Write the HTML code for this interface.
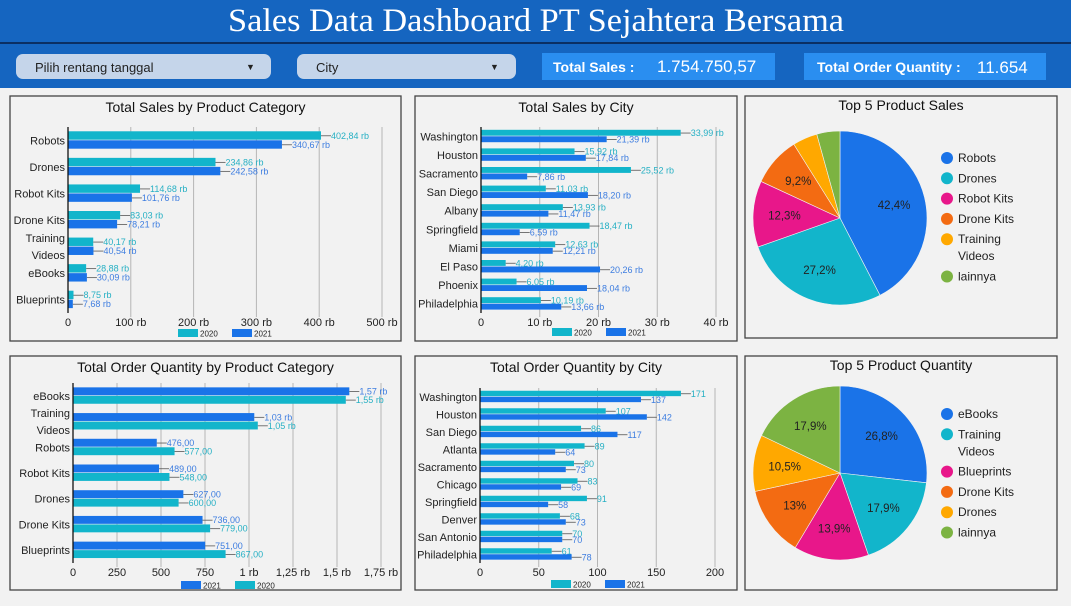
<!DOCTYPE html>
<html><head><meta charset="utf-8"><style>
body{margin:0;width:1071px;height:601px;overflow:hidden;background:#f2f2f2;font-family:"Liberation Sans",sans-serif}
svg text{font-family:"Liberation Sans",sans-serif}
</style></head><body>
<svg id="s" width="1071" height="601" xmlns="http://www.w3.org/2000/svg">
<rect x="0" y="0" width="1071" height="601" fill="#f2f2f2"/>
<rect x="0" y="0" width="1071" height="88" fill="#1565c0"/>
<rect x="0" y="42" width="1071" height="2" fill="#0b2f63"/>
<text x="536" y="31" text-anchor="middle" font-size="33" fill="#fff" style="font-family:'Liberation Serif',serif" textLength="616" lengthAdjust="spacingAndGlyphs">Sales Data Dashboard PT Sejahtera Bersama</text>
<g><rect x="16" y="54" width="255" height="25" rx="7" fill="#c5d5ea"/><text x="35" y="72" font-size="13" fill="#222">Pilih rentang tanggal</text><text x="246" y="70" font-size="9" fill="#222">▼</text></g>
<g><rect x="297" y="54" width="219" height="25" rx="7" fill="#c5d5ea"/><text x="316" y="72" font-size="13" fill="#222">City</text><text x="490" y="70" font-size="9" fill="#222">▼</text></g>
<g><rect x="542" y="53" width="233" height="27" fill="#2a8ef0"/><text x="553" y="72" font-size="14" font-weight="bold" fill="#fff">Total Sales :</text><text x="657" y="72" font-size="17" fill="#fff">1.754.750,57</text></g>
<g><rect x="804" y="53" width="242" height="27" fill="#2a8ef0"/><text x="817" y="72" font-size="14" font-weight="bold" fill="#fff">Total Order Quantity :</text><text x="977" y="73" font-size="17" fill="#fff">11.654</text></g>
<g id="charts"></g>
</svg>
<script>
// Chart 1: Total Sales by Product Category (thousands)
const c1Cats=["Robots","Drones","Robot Kits","Drone Kits","Training|Videos","eBooks","Blueprints"];
const c1S2020=[402.84,234.86,114.68,83.03,40.17,28.88,8.75];
const c1S2021=[340.67,242.58,101.76,78.21,40.54,30.09,7.68];
const c1Ticks=[0,100,200,300,400,500];
const c1TickLabels=["0","100 rb","200 rb","300 rb","400 rb","500 rb"];
// Chart 2: Total Sales by City (thousands)
const c2Cats=["Washington","Houston","Sacramento","San Diego","Albany","Springfield","Miami","El Paso","Phoenix","Philadelphia"];
const c2S2020=[33.99,15.92,25.52,11.03,13.93,18.47,12.63,4.20,6.05,10.19];
const c2S2021=[21.39,17.84,7.86,18.20,11.47,6.59,12.21,20.26,18.04,13.66];
const c2Ticks=[0,10,20,30,40];
const c2TickLabels=["0","10 rb","20 rb","30 rb","40 rb"];
// Chart 4: Order Quantity by Product Category
const c4Cats=["eBooks","Training|Videos","Robots","Robot Kits","Drones","Drone Kits","Blueprints"];
const c4S2021=[1570,1030,476,489,627,736,751];
const c4S2020=[1550,1050,577,548,600,779,867];
const c4Ticks=[0,250,500,750,1000,1250,1500,1750];
const c4TickLabels=["0","250","500","750","1 rb","1,25 rb","1,5 rb","1,75 rb"];
// Chart 5: Order Quantity by City
const c5Cats=["Washington","Houston","San Diego","Atlanta","Sacramento","Chicago","Springfield","Denver","San Antonio","Philadelphia"];
const c5S2020=[171,107,86,89,80,83,91,68,70,61];
const c5S2021=[137,142,117,64,73,69,58,73,70,78];
const c5Ticks=[0,50,100,150,200];
const c5TickLabels=["0","50","100","150","200"];
// Pies
const p1Labels=["Robots","Drones","Robot Kits","Drone Kits","Training|Videos","lainnya"];
const p1Values=[42.4,27.2,12.3,9.2,4.6,4.3];
const p2Labels=["eBooks","Training|Videos","Blueprints","Drone Kits","Drones","lainnya"];
const p2Values=[26.8,17.9,13.9,13,10.5,17.9];

const NS="http://www.w3.org/2000/svg";
const root=document.getElementById('charts');
const TEAL="#12b5cb",BLUE="#1a73e8",TEALT="#26b0c4",BLUET="#3d7de0";
const PIEC=["#1a73e8","#12b5cb","#e8178a","#f36b12","#ffa800","#7cb342"];
function mk(tag,attrs,parent){const e=document.createElementNS(NS,tag);for(const k in attrs)e.setAttribute(k,attrs[k]);(parent||root).appendChild(e);return e;}
function txt(x,y,s,attrs,parent){const t=mk('text',Object.assign({x:x,y:y},attrs),parent);t.textContent=s;return t;}
function panel(x,y,w,h,title,name){const g=mk('g',{});


mk('rect',{x:x,y:y,width:w,height:h,fill:"#f2f2f2",stroke:"#444","stroke-width":1.3},g);
const t=txt(x+w/2,y+16,title,{"text-anchor":"middle","font-size":14,fill:"#111"},g);


return g;}
function fmtRb(v){return v.toFixed(2).replace('.',',')+' rb';}
function fmtQ(v){return v>=1000?(v/1000).toFixed(2).replace('.',',')+' rb':v.toFixed(2).replace('.',',');}
function hbar(g,o){
 const n=o.cats.length,band=(o.bottom-o.top)/n;
 const sx=v=>o.x0+v*(o.x1-o.x0)/o.max;
 o.ticks.forEach((t,i)=>{const x=sx(t);
  if(i>0)mk('line',{x1:x,x2:x,y1:o.top,y2:o.bottom+4,stroke:"#b5b5b5","stroke-width":1},g);
  const tl=txt(x,o.bottom+13,o.tickLabels[i],{"text-anchor":"middle","font-size":11,fill:"#222"},g);
  
  
 });
 o.cats.forEach((c,i)=>{const cy=o.top+band*(i+0.5);
  const parts=c.split('|');
  parts.forEach((p,j)=>{const yy=cy+4+(j-(parts.length-1)/2)*17;
   const cl=txt(o.x0-3,yy,p,{"text-anchor":"end","font-size":11,fill:"#222"},g);
   
   });
  o.series.forEach((s,k)=>{const y=cy-o.bh+k*o.bh;const w=sx(s.vals[i])-o.x0;
   const b=mk('rect',{x:o.x0,y:y,width:Math.max(w,0),height:o.bh-0.6,fill:s.color},g);
   
   
   const ex=o.x0+w,ly=y+o.bh/2;
   mk('line',{x1:ex,x2:ex+10,y1:ly,y2:ly,stroke:"#555","stroke-width":0.8},g);
   const dl=txt(ex+10,ly+3,o.fmt(s.vals[i]),{"font-size":9,fill:s.tcol},g);
   
   
  });
 });
 mk('line',{x1:o.x0,x2:o.x0,y1:o.top,y2:o.bottom,stroke:"#111","stroke-width":1.3},g);
 o.legend.forEach((l,k)=>{const lx=o.legX+k*54;
  const lg=mk('g',{},g);
  
  
  mk('rect',{x:lx,y:o.legY,width:20,height:8,fill:l.color},lg);
  txt(lx+22,o.legY+7.5,l.name,{"font-size":8,fill:"#222"},lg);
 });
}
const g1=panel(10,96,391,245,"Total Sales by Product Category","sales-by-category-chart");
hbar(g1,{cats:c1Cats,x0:68,x1:382,max:500,top:127,bottom:313,bh:9,ticks:c1Ticks,tickLabels:c1TickLabels,fmt:fmtRb,
 series:[{name:"2020",vals:c1S2020,color:TEAL,tcol:TEALT},{name:"2021",vals:c1S2021,color:BLUE,tcol:BLUET}],
 legend:[{name:"2020",color:TEAL},{name:"2021",color:BLUE}],legX:178,legY:329});
const g2=panel(415,96,322,245,"Total Sales by City","sales-by-city-chart");
hbar(g2,{cats:c2Cats,x0:481,x1:716,max:40,top:127,bottom:313,bh:6.5,ticks:c2Ticks,tickLabels:c2TickLabels,fmt:fmtRb,
 series:[{name:"2020",vals:c2S2020,color:TEAL,tcol:TEALT},{name:"2021",vals:c2S2021,color:BLUE,tcol:BLUET}],
 legend:[{name:"2020",color:TEAL},{name:"2021",color:BLUE}],legX:552,legY:328});
const g4=panel(10,356,391,234,"Total Order Quantity by Product Category","quantity-by-category-chart");
hbar(g4,{cats:c4Cats,x0:73,x1:381,max:1750,top:383,bottom:563,bh:8.5,ticks:c4Ticks,tickLabels:c4TickLabels,fmt:fmtQ,
 series:[{name:"2021",vals:c4S2021,color:BLUE,tcol:BLUET},{name:"2020",vals:c4S2020,color:TEAL,tcol:TEALT}],
 legend:[{name:"2021",color:BLUE},{name:"2020",color:TEAL}],legX:181,legY:581});
const g5=panel(415,356,322,234,"Total Order Quantity by City","quantity-by-city-chart");
hbar(g5,{cats:c5Cats,x0:480,x1:715,max:200,top:388,bottom:563,bh:6,ticks:c5Ticks,tickLabels:c5TickLabels,fmt:v=>String(v),
 series:[{name:"2020",vals:c5S2020,color:TEAL,tcol:TEALT},{name:"2021",vals:c5S2021,color:BLUE,tcol:BLUET}],
 legend:[{name:"2020",color:TEAL},{name:"2021",color:BLUE}],legX:551,legY:580});
function pie(g,cx,cy,r,labels,vals,legY,showSmall){
 const tot=vals.reduce((a,b)=>a+b,0);let a0=-Math.PI/2;
 vals.forEach((v,i)=>{const a1=a0+v/tot*2*Math.PI;
  const p=`M${cx},${cy}L${cx+r*Math.cos(a0)},${cy+r*Math.sin(a0)}A${r},${r} 0 ${a1-a0>Math.PI?1:0} 1 ${cx+r*Math.cos(a1)},${cy+r*Math.sin(a1)}Z`;
  const s=mk('path',{d:p,fill:PIEC[i],stroke:"#f2f2f2","stroke-width":0.6},g);
  
  
  if(v/tot>0.07){const m=(a0+a1)/2,lr=r*0.64;
   const pl=txt(cx+lr*Math.cos(m),cy+lr*Math.sin(m)+4,(Math.round(v*10)/10).toString().replace('.',',')+'%',{"text-anchor":"middle","font-size":11.5,fill:"#222"},g);
   
   }
  a0=a1;});
 let y=legY;
 labels.forEach((l,i)=>{const lg=mk('g',{},g);
  
  
  mk('circle',{cx:947,cy:y,r:6,fill:PIEC[i]},lg);
  const parts=l.split('|');
  parts.forEach((p,j)=>txt(958,y+4+j*17,p,{"font-size":12,fill:"#222"},lg));
  y+=20.3+(parts.length-1)*17;});
}
const g3=panel(745,96,312,242,"Top 5 Product Sales","top5-sales-pie");
g3.querySelector('text').setAttribute('y',110);
pie(g3,840,218,87,p1Labels,p1Values,158);
const g6=panel(745,356,312,234,"Top 5 Product Quantity","top5-quantity-pie");
g6.querySelector('text').setAttribute('y',370);
pie(g6,840,473,87,p2Labels,p2Values,414);
</script>
</body></html>
